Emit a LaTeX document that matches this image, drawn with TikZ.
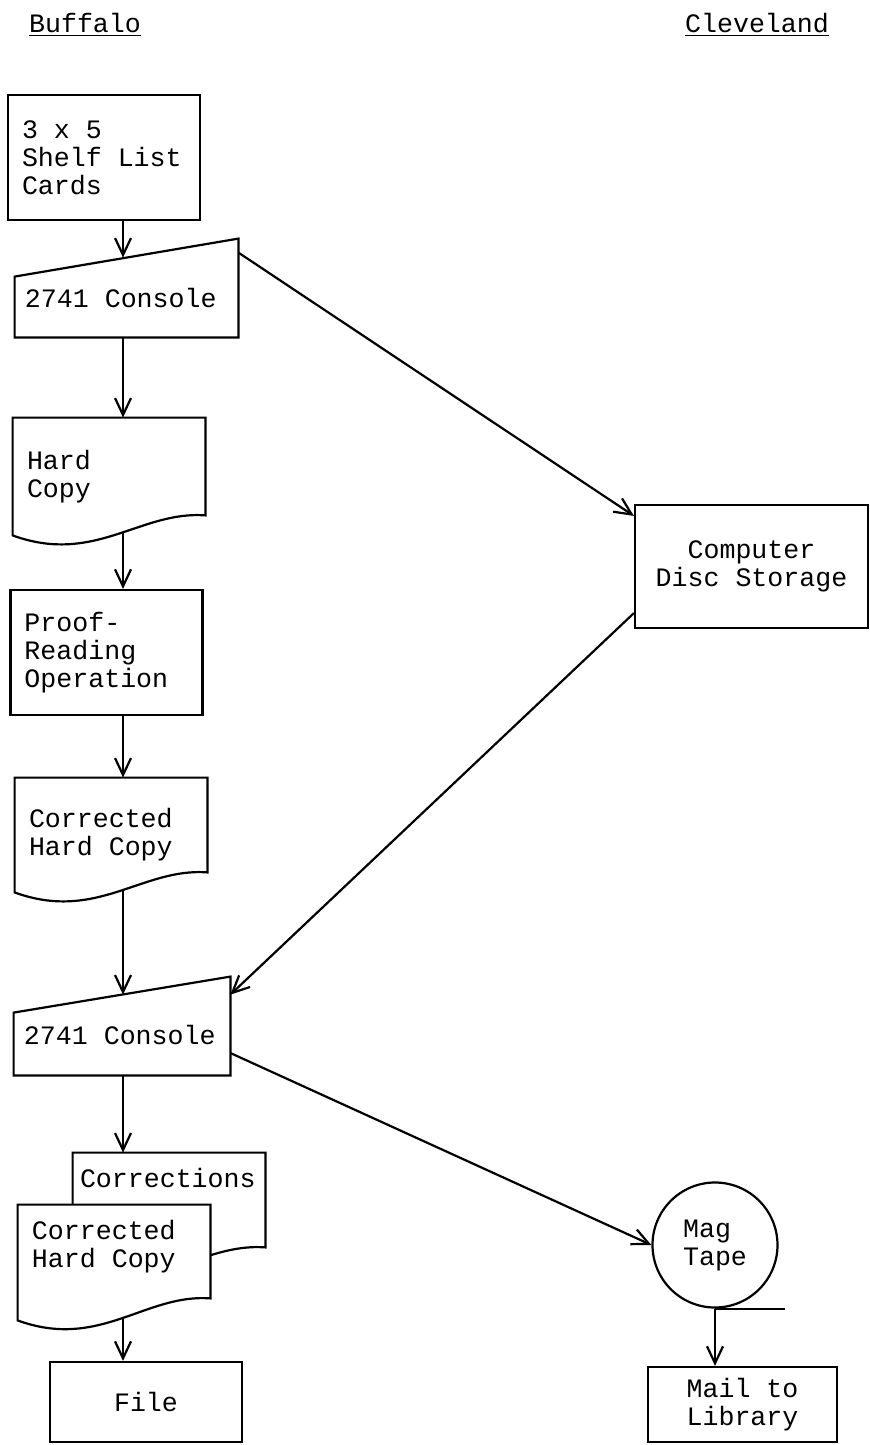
\documentclass[tikz,border=0pt]{standalone}
\usepackage{fontspec}
\setmainfont{Liberation Mono}
\usetikzlibrary{calc,arrows.meta,backgrounds}

\tikzset{
  every node/.append style={execute at begin node={\spaceskip=0.6em\relax}},
  box/.style={draw, line width=1.1pt, align=left, inner xsep=7pt, text width=82pt},
  plain/.style={align=left, inner xsep=7pt, text width=82pt},
  flow/.style={line width=1.1pt, -{Straight Barb[length=8.5pt,width=8pt]}},
  outline/.style={line width=1.1pt, fill=white}
}

% document symbol: node, shift of left end, shift of right end
\newcommand{\docshape}[3]{%
  \draw[outline] ($(#1.south west)+(0,#2)$) -- (#1.north west) -- (#1.north east)
    -- ($(#1.south east)+(0,#3)$)
    .. controls ($(#1.south east)+(-32.5pt,#3+2.5pt)$) and ($(#1.south west)+(41pt,#2-15pt)$)
    .. ($(#1.south west)+(0,#2)$) -- cycle;}
% manual input symbol: node, half of the slant
\newcommand{\consoleshape}[2]{%
  \draw[outline] (#1.south west) -- ($(#1.north west)+(0,-#2)$)
    -- ($(#1.north east)+(0,#2)$) -- (#1.south east) -- cycle;}

\begin{document}
\begin{tikzpicture}[x=0.5pt, y=-0.5pt, font=\fontsize{13.3pt}{14pt}\selectfont]
    \useasboundingbox (0,0) rectangle (870,1445);
    \coordinate (axis) at (123,0);

    % headings
    \node (buf) at (85,25) {\underline{Buffalo}};
    \node (cle) at (757,25) {\underline{Cleveland}};

    % Buffalo
    \node[box, minimum height=62.5pt] (cards) at (104,157.5) {3 x 5\\Shelf List\\Cards};
    \node[plain, inner xsep=5pt, text width=101.5pt, minimum height=39.5pt] (con1) at (126.5,297.5) {2741 Console};
    \node[plain, minimum height=58.5pt] (hc) at (109,476.5) {Hard\\Copy};
    \node[box, minimum height=62.5pt] (proof) at (106.5,652.5) {Proof-\\Reading\\Operation};
    \node[plain, minimum height=57pt] (chc1) at (111,835) {Corrected\\Hard Copy};
    \node[plain, inner xsep=5pt, text width=98pt, minimum height=40pt] (con2) at (122,1035) {2741 Console};
    \node[plain, inner xsep=3.5pt, text width=89pt, minimum height=25pt] (corr) at (169,1178) {Corrections};
    \node[plain, minimum height=41.5pt] (chc2) at (114,1246.5) {Corrected\\Hard Copy};
    \node[box, align=center, minimum height=40pt] (file) at (146,1402) {File};

    % Cleveland
    \node[box, align=center, text width=102.5pt, minimum height=61.5pt] (cds) at (751.5,566.5) {Computer\\Disc Storage};
    \node[draw, circle, line width=1.1pt, minimum size=62.5pt, inner sep=0pt, align=left] (tape) at (715,1245) {Mag\\Tape};
    \draw[line width=1.1pt] (tape.south) -- ++(35pt,0);
    \node[box, align=center, text width=80.5pt, minimum height=37.5pt] (mail) at (742.5,1404.5) {Mail to\\Library};

    \begin{pgfonlayer}{background}
        \draw[flow] (cards.south -| axis) -- (con1.north -| axis);
        \draw[flow] (con1.south -| axis) -- (hc.north -| axis);
        \draw[flow] (hc.center -| axis) -- (proof.north -| axis);
        \draw[flow] (proof.south -| axis) -- (chc1.north -| axis);
        \draw[flow] (chc1.center -| axis) -- (con2.north -| axis);
        \draw[flow] (con2.south -| axis) -- (corr.north -| axis);
        \draw[flow] (chc2.center -| axis) -- (file.north -| axis);
        \draw[flow] ([yshift=2.5pt]con1.north east) -- ([yshift=-6pt]cds.north west);
        \draw[flow] ([yshift=8pt]cds.south west) -- (con2.north east);
        \draw[flow] ([yshift=-9pt]con2.east) -- (tape.west);
        \draw[flow] (tape.south) -- (tape.south |- mail.north);

        \consoleshape{con1}{9.5pt}
        \consoleshape{con2}{9pt}
        \docshape{hc}{0pt}{10pt}
        \docshape{chc1}{0pt}{10pt}
        \docshape{corr}{-32pt}{-22pt}
        \docshape{chc2}{-16pt}{-5pt}
    \end{pgfonlayer}
\end{tikzpicture}
\end{document}
